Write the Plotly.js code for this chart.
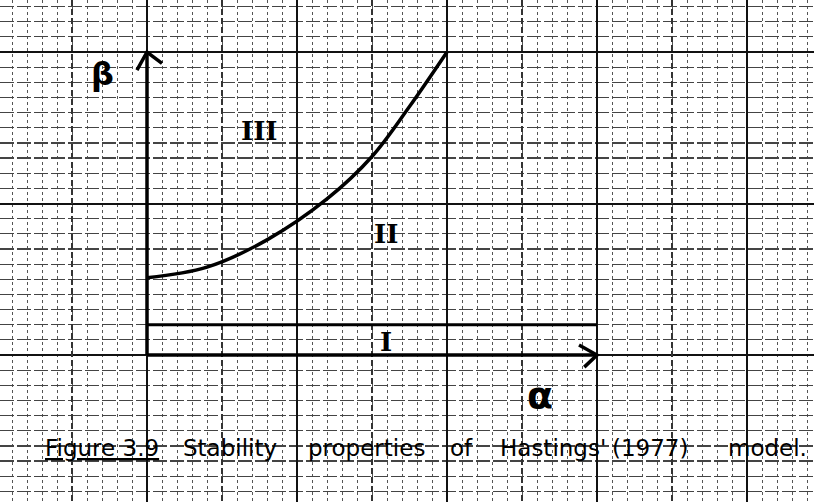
<!DOCTYPE html>
<html>
<head>
<meta charset="utf-8">
<script src="https://cdn.plot.ly/plotly-3.0.1.min.js"></script>
<style>html,body{margin:0;padding:0;background:#fff;}#chart{width:814px;height:502px;}</style>
</head>
<body>
<div id="chart"></div>
<script>
// Boundary curve between regions II and III (alpha, beta) in grid units
var curveAlpha = [0, 4, 8, 12, 15, 17.5, 20];
var curveBeta  = [5.1, 5.8, 7.6, 10.3, 13.1, 16.4, 20];

// Boundary between regions I and II
var lineIAlpha = [0, 30];
var lineIBeta  = [2, 2];

// Axes extents
var alphaAxisEnd = 30;
var betaAxisEnd = 20;

// Region labels
var regionLabels = ['III', 'II', 'I'];
var regionAlpha  = [7.5, 15.9, 15.9];
var regionBeta   = [14.8, 8.0, 0.86];

// Caption words
var captionWords = ['<u>Figure 3.9</u>', 'Stability', 'properties', 'of', "Hastings'", '(1977)', 'model.'];
var captionCenterPx = [102, 230, 366, 461, 553, 650, 767];

var W = 814, H = 502;
var ink = '#000';
var traces = [];

traces.push({x: curveAlpha, y: curveBeta, mode: 'lines', type: 'scatter',
  line: {color: ink, width: 3.5, shape: 'spline', smoothing: 1}, hoverinfo: 'skip'});
traces.push({x: lineIAlpha, y: lineIBeta, mode: 'lines', type: 'scatter',
  line: {color: ink, width: 3}, hoverinfo: 'skip'});
traces.push({x: [0, 0], y: [0, betaAxisEnd], mode: 'lines', type: 'scatter',
  line: {color: ink, width: 3.5}, hoverinfo: 'skip'});
traces.push({x: [0, alphaAxisEnd], y: [0, 0], mode: 'lines', type: 'scatter',
  line: {color: ink, width: 3.5}, hoverinfo: 'skip'});
traces.push({x: [-0.67, 0, 1.0], y: [betaAxisEnd - 1.2, betaAxisEnd, betaAxisEnd - 0.75],
  mode: 'lines', type: 'scatter', line: {color: ink, width: 3.5}, hoverinfo: 'skip'});
traces.push({x: [alphaAxisEnd - 1.2, alphaAxisEnd, alphaAxisEnd - 0.85], y: [0.66, 0, -0.8],
  mode: 'lines', type: 'scatter', line: {color: ink, width: 3.5}, hoverinfo: 'skip'});
traces.push({x: [], y: [], xaxis: 'x2', type: 'scatter', mode: 'lines', hoverinfo: 'skip'});

var xr = [-147 / 15, (W - 147) / 15];
var yr = [-(H - 355) / 15.15, 355 / 15.15];

var annotations = [];
for (var i = 0; i < regionLabels.length; i++) {
  annotations.push({x: regionAlpha[i], y: regionBeta[i], xref: 'x', yref: 'y', text: '<b>' + regionLabels[i] + '</b>',
    showarrow: false, font: {family: 'DejaVu Serif', size: 26, color: ink}});
}
annotations.push({x: -3, y: 18.55, xref: 'x', yref: 'y', text: '<b>β</b>', showarrow: false,
  font: {family: 'DejaVu Sans', size: 32, color: ink}});
annotations.push({x: 26.2, y: -2.64, xref: 'x', yref: 'y', text: '<b>α</b>', showarrow: false,
  font: {family: 'DejaVu Sans', size: 38, color: ink}});
for (var j = 0; j < captionWords.length; j++) {
  annotations.push({x: captionCenterPx[j] / W, y: 1 - 448 / H, xref: 'paper', yref: 'paper',
    xanchor: 'center', yanchor: 'middle', text: captionWords[j], showarrow: false,
    font: {family: 'DejaVu Sans', size: 23, color: ink}});
}

var layout = {
  width: W, height: H,
  margin: {l: 0, r: 0, t: 0, b: 0, pad: 0},
  paper_bgcolor: '#fff', plot_bgcolor: '#fff',
  showlegend: false, hovermode: false,
  xaxis: {range: xr, tick0: 0, dtick: 10, showgrid: true, gridcolor: '#111', gridwidth: 1.6,
    zeroline: false, showticklabels: false, ticks: '', showline: false, fixedrange: true,
    minor: {tick0: 0, dtick: 1, showgrid: true, gridcolor: '#555', gridwidth: 1, griddash: '3px,3px'}},
  xaxis2: {range: xr, overlaying: 'x', tick0: 5, dtick: 10, showgrid: true, gridcolor: '#333',
    gridwidth: 1.2, griddash: '6px,3px', zeroline: false, showticklabels: false, ticks: '', showline: false, fixedrange: true},
  yaxis: {range: yr, tick0: 0, dtick: 10, showgrid: true, gridcolor: '#111', gridwidth: 2,
    zeroline: false, showticklabels: false, ticks: '', showline: false, fixedrange: true,
    minor: {tick0: 0, dtick: 1, showgrid: true, gridcolor: '#444', gridwidth: 1.2, griddash: '14px,3px'}},
  annotations: annotations
};

Plotly.newPlot('chart', traces, layout, {displayModeBar: false, staticPlot: true});
</script>
</body>
</html>
